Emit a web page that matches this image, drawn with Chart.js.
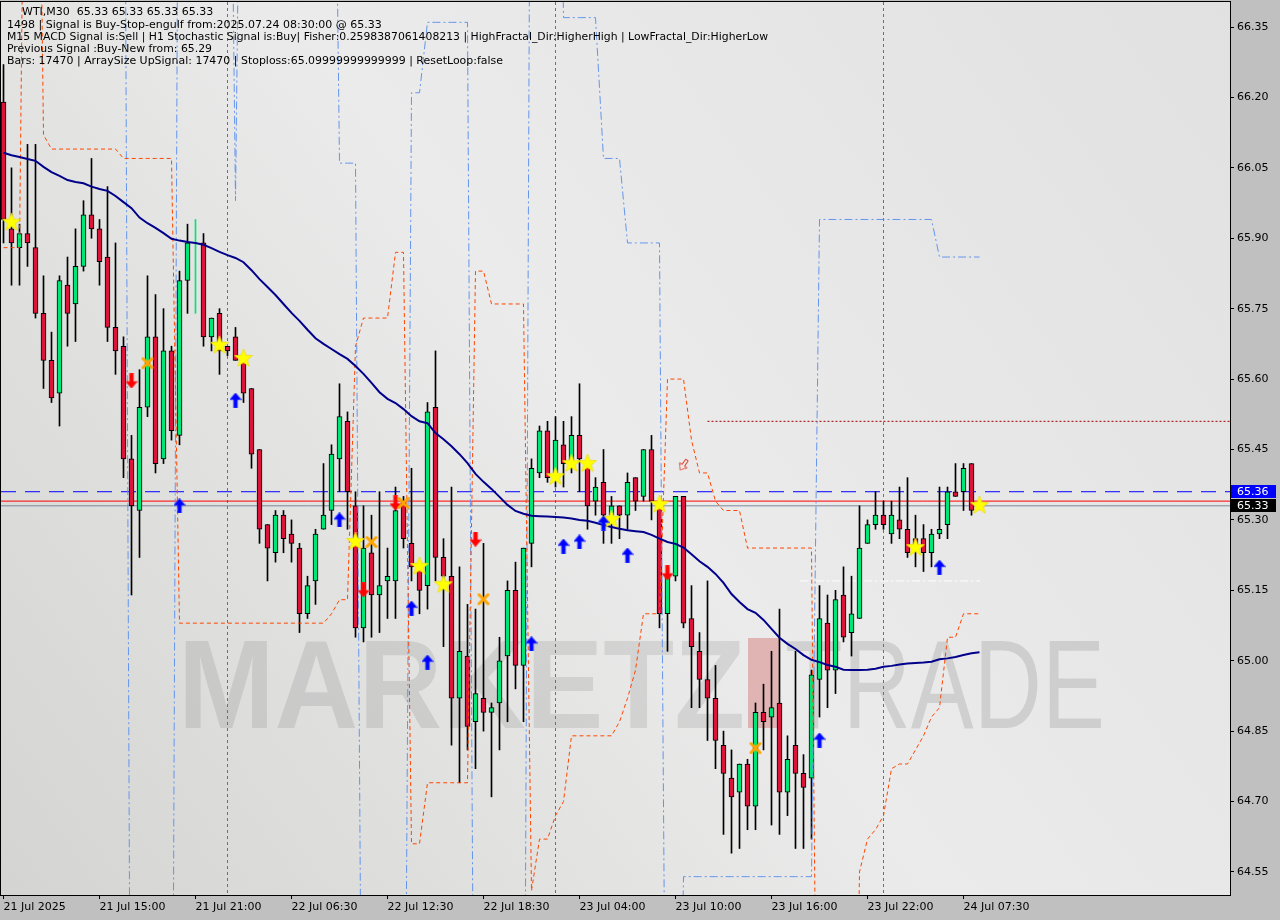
<!DOCTYPE html>
<html lang="en">
<head>
    <meta charset="UTF-8">
    <title>WTI,M30</title>
    <script src="https://cdn.jsdelivr.net/npm/chart.js"></script>
    <style>
        html, body { margin: 0; padding: 0; background: #c0c0c0; }
        #priceChart { display: block; }
    </style>
</head>
<body>
    <canvas id="priceChart" width="1280" height="920"></canvas>

    <script>
        // Bar data (one entry per 30 min bar)
        const opens = [
            66.19, 65.92, 65.88, 65.91, 65.88, 65.74, 65.64, 65.57, 65.80, 65.76,
            65.84, 65.95, 65.92, 65.86, 65.71, 65.67, 65.43, 65.32, 65.54, 65.69,
            65.43, 65.66, 65.48, 65.81, 65.74, 65.89, 65.69, 65.74, 65.67, 65.69,
            65.64, 65.58, 65.45, 65.29, 65.23, 65.31, 65.27, 65.24, 65.10, 65.17,
            65.28, 65.32, 65.43, 65.51, 65.33, 65.07, 65.23, 65.14, 65.17, 65.17,
            65.34, 65.25, 65.20, 65.16, 65.54, 65.22, 65.18, 64.92, 65.01, 64.87,
            64.92, 64.89, 64.91, 65.01, 65.15, 64.99, 65.25, 65.40, 65.49, 65.40,
            65.46, 65.42, 65.48, 65.42, 65.34, 65.38, 65.31, 65.33, 65.31, 65.39,
            65.35, 65.45, 65.33, 65.10, 65.18, 65.35, 65.09, 65.02, 64.96, 64.92,
            64.82, 64.75, 64.72, 64.78, 64.69, 64.89, 64.88, 64.91, 64.72, 64.82,
            64.76, 64.75, 64.96, 65.08, 64.98, 65.14, 65.06, 65.09, 65.25, 65.29,
            65.31, 65.27, 65.30, 65.28, 65.26, 65.26, 65.23, 65.27, 65.29, 65.36,
            65.36, 65.42, 65.33
        ];
        const highs = [
            66.27, 66.05, 65.93, 66.10, 66.10, 65.82, 65.70, 65.82, 65.86, 65.92,
            65.98, 66.07, 65.94, 66.01, 65.89, 65.69, 65.48, 65.62, 65.82, 65.78,
            65.75, 65.67, 65.83, 65.93, 65.94, 65.91, 65.73, 65.75, 65.67, 65.71,
            65.64, 65.58, 65.45, 65.29, 65.32, 65.32, 65.30, 65.25, 65.18, 65.28,
            65.42, 65.46, 65.59, 65.53, 65.36, 65.33, 65.31, 65.36, 65.24, 65.37,
            65.35, 65.41, 65.21, 65.55, 65.66, 65.26, 65.37, 65.20, 65.12, 65.11,
            65.25, 64.91, 65.05, 65.17, 65.21, 65.24, 65.43, 65.50, 65.51, 65.52,
            65.51, 65.52, 65.59, 65.43, 65.39, 65.45, 65.35, 65.33, 65.40, 65.39,
            65.45, 65.48, 65.33, 65.19, 65.35, 65.35, 65.16, 65.06, 65.17, 64.99,
            64.85, 64.81, 64.78, 64.79, 64.91, 64.95, 65.02, 65.11, 64.84, 65.02,
            64.80, 64.98, 65.16, 65.14, 65.15, 65.20, 65.18, 65.33, 65.30, 65.36,
            65.34, 65.34, 65.37, 65.39, 65.31, 65.29, 65.28, 65.37, 65.37, 65.42,
            65.42, 65.42, 65.33
        ];
        const lows = [
            65.89, 65.80, 65.80, 65.84, 65.73, 65.58, 65.55, 65.50, 65.67, 65.68,
            65.83, 65.90, 65.80, 65.68, 65.61, 65.39, 65.14, 65.22, 65.52, 65.40,
            65.42, 65.47, 65.46, 65.74, 65.74, 65.67, 65.66, 65.61, 65.65, 65.64,
            65.55, 65.41, 65.25, 65.17, 65.21, 65.23, 65.21, 65.06, 65.09, 65.12,
            65.28, 65.29, 65.36, 65.28, 65.05, 65.04, 65.05, 65.06, 65.09, 65.09,
            65.24, 65.17, 65.10, 65.11, 65.17, 65.03, 64.82, 64.74, 64.81, 64.77,
            64.85, 64.71, 64.81, 64.87, 64.94, 64.87, 65.20, 65.39, 65.38, 65.37,
            65.37, 65.40, 65.36, 65.28, 65.31, 65.25, 65.25, 65.26, 65.28, 65.32,
            65.34, 65.30, 65.07, 65.02, 65.17, 65.07, 64.90, 64.90, 64.83, 64.77,
            64.63, 64.59, 64.60, 64.64, 64.64, 64.81, 64.65, 64.63, 64.67, 64.60,
            64.60, 64.62, 64.88, 64.90, 64.93, 65.04, 65.01, 65.09, 65.25, 65.28,
            65.28, 65.25, 65.26, 65.22, 65.20, 65.19, 65.20, 65.26, 65.26, 65.35,
            65.32, 65.31, 65.33
        ];
        const closes = [
            65.94, 65.89, 65.91, 65.89, 65.74, 65.64, 65.56, 65.81, 65.74, 65.84,
            65.95, 65.92, 65.85, 65.71, 65.66, 65.43, 65.33, 65.54, 65.69, 65.42,
            65.66, 65.49, 65.81, 65.89, 65.94, 65.69, 65.73, 65.66, 65.66, 65.64,
            65.57, 65.44, 65.28, 65.24, 65.31, 65.26, 65.25, 65.10, 65.16, 65.27,
            65.31, 65.44, 65.52, 65.36, 65.07, 65.24, 65.14, 65.16, 65.18, 65.32,
            65.26, 65.20, 65.15, 65.53, 65.22, 65.18, 64.92, 65.02, 64.86, 64.93,
            64.89, 64.90, 65.00, 65.15, 64.99, 65.24, 65.41, 65.49, 65.39, 65.47,
            65.42, 65.48, 65.43, 65.33, 65.37, 65.31, 65.33, 65.31, 65.38, 65.34,
            65.45, 65.34, 65.10, 65.18, 65.35, 65.08, 65.03, 64.96, 64.92, 64.83,
            64.76, 64.71, 64.78, 64.69, 64.89, 64.87, 64.90, 64.72, 64.79, 64.76,
            64.73, 64.97, 65.09, 64.98, 65.13, 65.05, 65.10, 65.24, 65.29, 65.31,
            65.29, 65.31, 65.28, 65.23, 65.24, 65.23, 65.27, 65.28, 65.36, 65.35,
            65.41, 65.32, 65.33
        ];
        // bar drawn as a bare green line on the chart (no body)
        const wickOnly = [24];

        // moving average (navy)
        const maLine = [
            66.082, 66.077, 66.073, 66.069, 66.065, 66.052, 66.041, 66.033, 66.024, 66.020,
            66.017, 66.010, 66.005, 66.001, 65.990, 65.977, 65.964, 65.944, 65.932, 65.922,
            65.911, 65.899, 65.895, 65.892, 65.890, 65.886, 65.879, 65.871, 65.864, 65.858,
            65.849, 65.832, 65.813, 65.796, 65.779, 65.760, 65.741, 65.724, 65.705, 65.687,
            65.675, 65.664, 65.653, 65.643, 65.628, 65.611, 65.592, 65.572, 65.558, 65.549,
            65.536, 65.521, 65.510, 65.506, 65.485, 65.472, 65.457, 65.440, 65.421, 65.398,
            65.381, 65.366, 65.349, 65.332, 65.319, 65.313, 65.309, 65.308, 65.307, 65.306,
            65.305, 65.303, 65.300, 65.298, 65.294, 65.289, 65.285, 65.281, 65.278, 65.276,
            65.274, 65.268, 65.260, 65.253, 65.249, 65.241, 65.227, 65.212, 65.200, 65.185,
            65.166, 65.142, 65.125, 65.110, 65.102, 65.087, 65.068, 65.049, 65.036, 65.025,
            65.012, 65.002, 64.997, 64.991, 64.987, 64.981, 64.980, 64.980, 64.981, 64.983,
            64.987, 64.989, 64.992, 64.994, 64.995, 64.996, 64.998, 65.003, 65.005, 65.008,
            65.012, 65.016, 65.018
        ];

        // orange trailing stop (67.5 / 63.5 = off the visible range)
        const stopLine = [
            65.88, 65.88, 65.88, 67.5, 67.5, 66.12, 66.09, 66.09, 66.09, 66.09,
            66.09, 66.09, 66.09, 66.09, 66.09, 66.07, 66.07, 66.07, 66.07, 66.07,
            66.07, 66.07, 65.08, 65.08, 65.08, 65.08, 65.08, 65.08, 65.08, 65.08,
            65.08, 65.08, 65.08, 65.08, 65.08, 65.08, 65.08, 65.08, 65.08, 65.08,
            65.08, 65.10, 65.13, 65.13, 65.67, 65.73, 65.73, 65.73, 65.73, 65.87,
            65.87, 64.61, 64.61, 64.74, 64.74, 64.74, 64.74, 64.74, 64.74, 65.83,
            65.83, 65.76, 65.76, 65.76, 65.76, 65.76, 64.51, 64.62, 64.62, 64.67,
            64.70, 64.84, 64.84, 64.84, 64.84, 64.84, 64.84, 64.87, 64.92, 64.98,
            65.10, 65.10, 65.10, 65.60, 65.60, 65.60, 65.47, 65.40, 65.40, 65.34,
            65.32, 65.32, 65.32, 65.24, 65.24, 65.24, 65.24, 65.24, 65.24, 65.24,
            65.24, 65.24, 63.5, 63.5, 63.5, 63.5, 63.5, 64.55, 64.62, 64.64,
            64.67, 64.77, 64.78, 64.78, 64.81, 64.84, 64.88, 64.90, 65.05, 65.05,
            65.10, 65.10, 65.10
        ];

        // blue trailing line (67.5 / 63.5 = off the visible range)
        const trendLine = [
            67.5, 67.5, 67.5, 67.5, 67.5, 67.5, 67.5, 67.5, 67.5, 67.5,
            67.5, 67.5, 67.5, 67.5, 67.5, 67.5, 63.5, 63.5, 63.5, 63.5,
            63.5, 63.5, 67.5, 67.5, 67.5, 67.5, 67.5, 67.5, 67.5, 65.98,
            67.5, 67.5, 67.5, 67.5, 67.5, 67.5, 67.5, 67.5, 67.5, 67.5,
            67.5, 67.5, 66.06, 66.06, 66.06, 63.5, 63.5, 63.5, 63.5, 63.5,
            63.5, 66.21, 66.21, 66.36, 66.36, 66.36, 66.36, 66.36, 66.36, 63.5,
            63.5, 63.5, 63.5, 63.5, 63.5, 63.5, 67.5, 67.5, 67.5, 67.5,
            66.37, 66.37, 66.37, 66.37, 66.37, 66.07, 66.07, 66.07, 65.89, 65.89,
            65.89, 65.89, 65.89, 63.5, 63.5, 64.54, 64.54, 64.54, 64.54, 64.54,
            64.54, 64.54, 64.54, 64.54, 64.54, 64.54, 64.54, 64.54, 64.54, 64.54,
            64.54, 64.54, 65.94, 65.94, 65.94, 65.94, 65.94, 65.94, 65.94, 65.94,
            65.94, 65.94, 65.94, 65.94, 65.94, 65.94, 65.94, 65.86, 65.86, 65.86,
            65.86, 65.86, 65.86
        ];

        // signal markers: bar index + price
        const starIdx = [1, 27, 30, 44, 52, 55, 69, 71, 73, 76, 82, 114, 122];
        const starPx = [65.935, 65.673, 65.645, 65.255, 65.202, 65.163, 65.393, 65.421, 65.421, 65.302, 65.334, 65.242, 65.332];
        const upIdx = [22, 29, 42, 51, 53, 66, 70, 72, 75, 78, 102, 117];
        const upPx = [65.330, 65.555, 65.300, 65.112, 64.997, 65.036, 65.244, 65.253, 65.293, 65.225, 64.831, 65.199];
        const downIdx = [16, 45, 49, 59, 83];
        const downPx = [65.596, 65.151, 65.336, 65.259, 65.187];
        const crossIdx = [18, 46, 50, 60, 94];
        const crossPx = [65.634, 65.253, 65.336, 65.131, 64.814];
        const hollowIdx = [85];
        const hollowPx = [65.417];

        // horizontal levels
        const askLevel = 65.36;
        const redLevel = 65.34;
        const bidLevel = 65.33;
        const resistLevel = 65.51, resistFrom = 88;
        const whiteLevel = 65.17, whiteFrom = 99.6, whiteTo = 122.1;

        // period separators
        const sepIdx = [28, 69, 110];

        // axis
        const priceTicks = [66.35, 66.20, 66.05, 65.90, 65.75, 65.60, 65.45, 65.30, 65.15, 65.00, 64.85, 64.70, 64.55];
        const xTickIdx = [0, 12, 24, 36, 48, 60, 72, 84, 96, 108, 120];
        const xTickLabels = ['21 Jul 2025', '21 Jul 15:00', '21 Jul 21:00', '22 Jul 06:30', '22 Jul 12:30',
            '22 Jul 18:30', '23 Jul 04:00', '23 Jul 10:00', '23 Jul 16:00', '23 Jul 22:00', '24 Jul 07:30'];

        const headerLines = [
            'WTI,M30  65.33 65.33 65.33 65.33',
            '1498 | Signal is Buy-Stop-engulf from:2025.07.24 08:30:00 @ 65.33',
            'M15 MACD Signal is:Sell | H1 Stochastic Signal is:Buy| Fisher:0.2598387061408213 | HighFractal_Dir:HigherHigh | LowFractal_Dir:HigherLow',
            'Previous Signal :Buy-New from: 65.29',
            'Bars: 17470 | ArraySize UpSignal: 17470 | Stoploss:65.09999999999999 | ResetLoop:false'
        ];

        [highs, lows, closes, maLine, stopLine, trendLine].forEach(a => {
            if (a.length !== opens.length) throw new Error('series length mismatch: ' + a.length);
        });

        const X_MIN = -0.3125, X_MAX = 153.3125;
        const Y_MIN = 64.5009, Y_MAX = 66.4033;
        const UP = 'rgb(0,230,118)', DOWN = 'rgb(220,20,60)';

        const barIdx = opens.map((_, i) => i);

        // marker images
        function makeImg(w, h, draw) {
            const c = document.createElement('canvas');
            c.width = w; c.height = h;
            draw(c.getContext('2d'), w, h);
            return c;
        }
        const starImg = makeImg(20, 20, g => {
            g.beginPath();
            for (let k = 0; k < 10; k++) {
                const r = k % 2 ? 4 : 9.5;
                const a = -Math.PI / 2 + k * Math.PI / 5;
                g.lineTo(10 + r * Math.cos(a), 10.5 + r * Math.sin(a));
            }
            g.closePath();
            g.fillStyle = '#ffff00';
            g.fill();
            g.strokeStyle = '#eedd00';
            g.lineWidth = 0.8;
            g.stroke();
        });
        function arrowPath(g) {
            g.beginPath();
            g.moveTo(6, 0); g.lineTo(12, 7); g.lineTo(8, 7); g.lineTo(8, 15);
            g.lineTo(4, 15); g.lineTo(4, 7); g.lineTo(0, 7); g.closePath();
        }
        const upImg = makeImg(12, 15, g => {
            arrowPath(g);
            g.fillStyle = '#0000ff'; g.fill();
            g.strokeStyle = '#4060ff'; g.lineWidth = 0.6; g.stroke();
        });
        const downImg = makeImg(12, 15, g => {
            g.translate(0, 15); g.scale(1, -1);
            arrowPath(g);
            g.fillStyle = '#ff0000'; g.fill();
            g.strokeStyle = '#ff4040'; g.lineWidth = 0.6; g.stroke();
        });
        const hollowImg = makeImg(12, 15, g => {
            g.translate(0, 15); g.scale(1, -1);
            g.translate(1.5, 1.5); g.scale(0.75, 0.8);
            arrowPath(g);
            g.strokeStyle = '#e03020'; g.lineWidth = 1.2; g.stroke();
        });
        const crossImg = makeImg(14, 14, g => {
            g.strokeStyle = '#ffa500';
            g.lineWidth = 3;
            g.lineCap = 'round';
            g.beginPath();
            g.moveTo(2.5, 2.5); g.lineTo(11.5, 11.5);
            g.moveTo(11.5, 2.5); g.lineTo(2.5, 11.5);
            g.stroke();
        });

        function markerSet(idx, px, img, rot) {
            return {
                type: 'line',
                data: idx.map((i, k) => ({ x: i, y: px[k] })),
                showLine: false,
                pointStyle: img,
                pointRadius: 5,
                rotation: rot || 0,
                clip: false,
                order: -1
            };
        }
        function levelSet(y, from, to, color, dash, order) {
            return {
                type: 'line',
                data: [{ x: from, y: y }, { x: to, y: y }],
                borderColor: color,
                borderWidth: 1,
                borderDash: dash,
                pointRadius: 0,
                order: order
            };
        }

        const backdrop = {
            id: 'backdrop',
            beforeDraw(chart) {
                const { ctx, chartArea: a } = chart;
                ctx.save();
                ctx.fillStyle = '#c0c0c0';
                ctx.fillRect(0, 0, chart.width, chart.height);
                const g = ctx.createLinearGradient(a.left, a.bottom, a.right, a.top);
                g.addColorStop(0, '#d4d4d2');
                g.addColorStop(0.5, '#ebebeb');
                g.addColorStop(1, '#e1e1e1');
                ctx.fillStyle = g;
                ctx.fillRect(a.left, a.top, a.right - a.left, a.bottom - a.top);

                // watermark
                ctx.textBaseline = 'alphabetic';
                ctx.font = 'bold 126px "Liberation Sans"';
                ctx.fillStyle = 'rgba(0,0,0,0.09)';
                let w = ctx.measureText('MARKETZ').width;
                ctx.save();
                ctx.translate(178, 728);
                ctx.scale(567 / w, 1);
                ctx.fillText('MARKETZ', 0, 0);
                ctx.restore();
                ctx.fillStyle = 'rgba(200,40,40,0.28)';
                ctx.fillRect(748, 638, 32, 90);
                ctx.font = '126px "Liberation Sans"';
                ctx.fillStyle = 'rgba(0,0,0,0.11)';
                w = ctx.measureText('TRADE').width;
                ctx.save();
                ctx.translate(785, 728);
                ctx.scale(320 / w, 1);
                ctx.fillText('TRADE', 0, 0);
                ctx.restore();
                ctx.restore();
            },
            beforeDatasetsDraw(chart) {
                const { ctx, chartArea: a, scales } = chart;
                ctx.save();
                ctx.strokeStyle = '#707070';
                ctx.lineWidth = 1;
                ctx.setLineDash([3, 3]);
                sepIdx.forEach(i => {
                    const x = scales.x.getPixelForValue(i);
                    ctx.beginPath();
                    ctx.moveTo(x, a.top);
                    ctx.lineTo(x, a.bottom);
                    ctx.stroke();
                });
                ctx.restore();
            },
            afterDraw(chart) {
                const { ctx, chartArea: a, scales } = chart;
                ctx.save();
                // frame
                ctx.strokeStyle = '#000';
                ctx.lineWidth = 1;
                ctx.strokeRect(a.left - 0.5, a.top - 0.5, a.right - a.left + 1, a.bottom - a.top + 1);

                // header text
                ctx.fillStyle = '#000';
                ctx.font = '11px "DejaVu Sans"';
                ctx.textBaseline = 'middle';
                ctx.textAlign = 'left';
                const hx = [22, 7, 7, 7, 7];
                const hy = [12.5, 25, 37.5, 49.5, 61.5];
                const hw = [197, 376, 761, 205, 496];
                headerLines.forEach((t, k) => ctx.fillText(t, hx[k], hy[k], hw[k]));

                // price tags on the axis
                const tag = (price, bg) => {
                    const y = scales.y.getPixelForValue(price);
                    ctx.fillStyle = bg;
                    ctx.fillRect(a.right + 1, Math.round(y - 6.5), 45, 13);
                    ctx.fillStyle = '#fff';
                    ctx.fillText(price.toFixed(2), a.right + 7, Math.round(y) + 0.5);
                };
                tag(askLevel, '#0000ff');
                tag(bidLevel, '#000000');
                ctx.restore();
            }
        };

        const ctx = document.getElementById('priceChart').getContext('2d');
        const bodyIdx = barIdx.filter(i => !wickOnly.includes(i));

        const priceChart = new Chart(ctx, {
            type: 'bar',
            data: {
                datasets: [
                    levelSet(askLevel, X_MIN, X_MAX, '#0000ff', [15, 9], 6),
                    levelSet(redLevel, X_MIN, X_MAX, '#ff0000', [], 6),
                    levelSet(bidLevel, X_MIN, X_MAX, '#778899', [], 6),
                    levelSet(resistLevel, resistFrom, X_MAX, '#a00000', [2, 2], 6),
                    levelSet(whiteLevel, whiteFrom, whiteTo, '#ffffff', [8, 3, 2, 3], 6),
                    {
                        // wicks
                        type: 'bar',
                        data: barIdx.map(i => ({ x: i, y: [lows[i], highs[i]] })),
                        backgroundColor: barIdx.map(i => wickOnly.includes(i) ? UP : '#000000'),
                        barThickness: 1,
                        grouped: false,
                        order: 4
                    },
                    {
                        // bodies
                        type: 'bar',
                        data: bodyIdx.map(i => ({ x: i, y: [opens[i], closes[i]] })),
                        backgroundColor: c => (c.raw && c.raw.y[1] >= c.raw.y[0]) ? UP : DOWN,
                        borderColor: '#000000',
                        borderWidth: 1,
                        borderSkipped: false,
                        barThickness: 5,
                        minBarLength: 1,
                        grouped: false,
                        order: 3
                    },
                    {
                        type: 'line',
                        data: barIdx.map(i => ({ x: i, y: stopLine[i] })),
                        borderColor: '#ff4500',
                        borderWidth: 1,
                        borderDash: [4, 3],
                        pointRadius: 0,
                        tension: 0,
                        order: 2
                    },
                    {
                        type: 'line',
                        data: barIdx.map(i => ({ x: i, y: trendLine[i] })),
                        borderColor: '#6495ed',
                        borderWidth: 1,
                        borderDash: [8, 3, 2, 3],
                        pointRadius: 0,
                        tension: 0,
                        order: 2
                    },
                    {
                        type: 'line',
                        data: barIdx.map(i => ({ x: i, y: maLine[i] })),
                        borderColor: '#00008b',
                        borderWidth: 2,
                        pointRadius: 0,
                        tension: 0,
                        order: 1
                    },
                    markerSet(crossIdx, crossPx, crossImg),
                    markerSet(downIdx, downPx, downImg),
                    markerSet(hollowIdx, hollowPx, hollowImg, 35),
                    markerSet(upIdx, upPx, upImg),
                    markerSet(starIdx, starPx, starImg)
                ]
            },
            options: {
                responsive: false,
                devicePixelRatio: 1,
                animation: false,
                events: [],
                layout: { autoPadding: false, padding: { left: 1, top: 2, right: 0, bottom: 0 } },
                plugins: {
                    legend: { display: false },
                    tooltip: { enabled: false },
                    title: { display: false }
                },
                scales: {
                    x: {
                        type: 'linear',
                        min: X_MIN,
                        max: X_MAX,
                        offset: false,
                        afterBuildTicks: s => { s.ticks = xTickIdx.map(v => ({ value: v })); },
                        afterFit: s => {
                            s.height = 25;
                            s.paddingLeft = 0; s.paddingRight = 0;
                            s.paddingTop = 0; s.paddingBottom = 0;
                        },
                        ticks: {
                            autoSkip: false,
                            maxRotation: 0,
                            minRotation: 0,
                            align: 'start',
                            padding: 2,
                            color: '#000',
                            font: { family: 'DejaVu Sans', size: 11 },
                            callback: (v, k) => xTickLabels[k]
                        },
                        grid: { drawOnChartArea: false, offset: false, tickLength: 4, color: '#000' },
                        border: { color: '#000' }
                    },
                    y: {
                        type: 'linear',
                        position: 'right',
                        min: Y_MIN,
                        max: Y_MAX,
                        afterBuildTicks: s => { s.ticks = priceTicks.map(v => ({ value: v })); },
                        afterFit: s => {
                            s.width = 50;
                            s.paddingLeft = 0; s.paddingRight = 0;
                            s.paddingTop = 0; s.paddingBottom = 0;
                        },
                        ticks: {
                            padding: 3,
                            color: '#000',
                            font: { family: 'DejaVu Sans', size: 11 },
                            callback: v => Number(v).toFixed(2)
                        },
                        grid: { drawOnChartArea: false, tickLength: 4, color: '#000' },
                        border: { color: '#000' }
                    }
                }
            },
            plugins: [backdrop]
        });
    </script>
</body>
</html>
